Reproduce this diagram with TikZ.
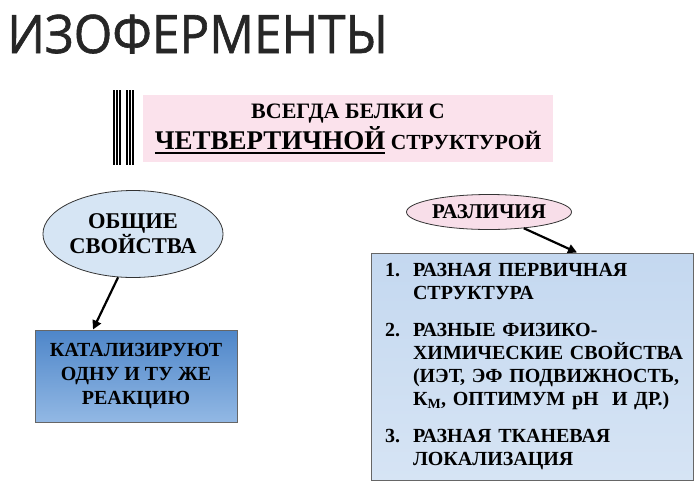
\documentclass[tikz,border=0pt]{standalone}
\usepackage{fontspec}
\setmainfont{Liberation Serif}
\newfontfamily\titlefont[FakeBold=1.2]{Open Sans}
\usetikzlibrary{shapes.geometric,arrows.meta}
\newcommand{\thickul}[1]{\setbox0\hbox{#1}\rlap{\raisebox{-4.5pt}{\rule{\wd0}{2pt}}}\box0}
\newcommand{\itemline}[2]{\mbox{\makebox[28pt][l]{#1}#2}}
\definecolor{pinkfill}{RGB}{251,226,236}
\definecolor{ovalblue}{RGB}{214,229,244}
\definecolor{ovalpink}{RGB}{248,222,233}
\definecolor{cattop}{RGB}{78,134,201}
\definecolor{catbot}{RGB}{146,184,228}
\definecolor{difftop}{RGB}{196,216,240}
\definecolor{diffbot}{RGB}{214,228,244}
\tikzset{
  oval/.style={ellipse,draw=black!80,line width=0.8pt,inner sep=0pt,align=center,font=\fontsize{22.5}{25}\selectfont\bfseries},
  catbox/.style={rectangle,draw=black!60,line width=1pt,top color=cattop,bottom color=catbot,align=center,font=\fontsize{20}{24}\selectfont\bfseries},
  diffbox/.style={rectangle,draw=black!60,line width=1pt,top color=difftop,bottom color=diffbot,align=left,inner xsep=14pt,font=\fontsize{20}{23}\selectfont\bfseries},
  pointer/.style={line width=2.2pt,-{Triangle[width=9pt,length=9pt]}},
  bar/.style={line width=1.6pt}
}
\begin{document}
\begin{tikzpicture}[x=1pt,y=-1pt]
\useasboundingbox (0,0) rectangle (700,488);
% заголовок
\node[anchor=base west,inner sep=0pt,font=\fontsize{53}{53}\selectfont\titlefont,color=black!85] (title) at (7,53) {\scalebox{0.935}[1]{ИЗОФЕРМЕНТЫ}};

% двойная черта
\foreach \x in {113.8,116.8,119.8,126.8,129.8,132.8}
    {\draw[bar] (\x,90) -- (\x,165);}

% розовая плашка
\node[rectangle,fill=pinkfill,minimum width=410,minimum height=67,align=center,font=\fontsize{22}{31}\selectfont\bfseries] (quat) at (348,128.5)
  {ВСЕГДА БЕЛКИ С\\{\fontsize{27}{31}\selectfont\thickul{ЧЕТВЕРТИЧНОЙ}} {\fontsize{21.5}{31}\selectfont СТРУКТУРОЙ}};

% общие свойства
\node[oval,fill=ovalblue,minimum width=144,minimum height=87] (common) at (133,234) {ОБЩИЕ\\СВОЙСТВА};
\node[catbox,minimum width=202,minimum height=92] (catal) at (136,376) {КАТАЛИЗИРУЮТ\\ОДНУ И ТУ ЖЕ\\РЕАКЦИЮ};
\draw[pointer] (common.-109) -- ([xshift=-43]catal.north);

% различия
\node[oval,fill=ovalpink,minimum width=165,minimum height=35,font=\fontsize{21}{24}\selectfont\bfseries] (diff) at (489,212) {РАЗЛИЧИЯ};
\node[diffbox,minimum width=322,minimum height=227,text width=294] (diffs) at (532,366.5)
  {\itemline{1.}{РАЗНАЯ ПЕРВИЧНАЯ}\\
   \itemline{}{СТРУКТУРА}\\[14pt]
   \itemline{2.}{РАЗНЫЕ ФИЗИКО-}\\
   \itemline{}{ХИМИЧЕСКИЕ СВОЙСТВА}\\
   \itemline{}{(ИЭТ, ЭФ ПОДВИЖНОСТЬ,}\\
   \itemline{}{К\textsubscript{М}, ОПТИМУМ pH\ \ И ДР.)}\\[14pt]
   \itemline{3.}{РАЗНАЯ ТКАНЕВАЯ}\\
   \itemline{}{ЛОКАЛИЗАЦИЯ}};
\draw[pointer] (diff.-25) -- ([xshift=45]diffs.north);

\end{tikzpicture}
\end{document}
